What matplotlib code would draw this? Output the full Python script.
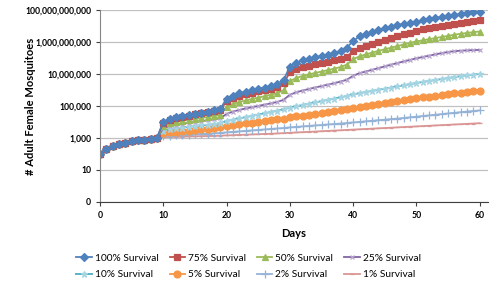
import numpy as np
import matplotlib
matplotlib.use("Agg")
import matplotlib.pyplot as plt

plt.rcParams['font.family'] = ['Lato', 'DejaVu Sans']

days = list(range(0, 61))

# log10 of adult female count (days 0..60)
start = [2.0, 2.30, 2.48, 2.60, 2.70, 2.78, 2.85, 2.90, 2.95, 3.00]

s100 = start + [4.02, 4.20, 4.30, 4.38, 4.45, 4.52, 4.58, 4.65, 4.72, 4.82,
                5.45, 5.65, 5.78, 5.88, 5.97, 6.06, 6.15, 6.25, 6.38, 6.62,
                7.45, 7.70, 7.85, 7.95, 8.05, 8.12, 8.20, 8.30, 8.42, 8.65,
                9.05, 9.35, 9.50, 9.63, 9.75, 9.86, 9.96, 10.05, 10.12, 10.20,
                10.27, 10.35, 10.42, 10.50, 10.57, 10.63, 10.69, 10.75, 10.80, 10.85, 10.89]
s75 = start + [3.95, 4.15, 4.25, 4.33, 4.40, 4.47, 4.53, 4.60, 4.66, 4.74,
               5.30, 5.50, 5.62, 5.73, 5.83, 5.92, 6.00, 6.08, 6.18, 6.42,
               7.10, 7.30, 7.42, 7.52, 7.60, 7.68, 7.76, 7.85, 7.95, 8.05,
               8.45, 8.62, 8.76, 8.89, 9.00, 9.12, 9.24, 9.36, 9.47, 9.58,
               9.70, 9.78, 9.86, 9.93, 10.00, 10.07, 10.13, 10.19, 10.25, 10.31, 10.36]
s50 = start + [3.75, 3.92, 4.00, 4.07, 4.13, 4.19, 4.25, 4.31, 4.37, 4.45,
               4.95, 5.12, 5.24, 5.34, 5.43, 5.52, 5.61, 5.70, 5.80, 5.98,
               6.55, 6.75, 6.87, 6.97, 7.06, 7.15, 7.24, 7.33, 7.43, 7.58,
               7.92, 8.10, 8.22, 8.33, 8.44, 8.54, 8.64, 8.74, 8.84, 8.94,
               9.03, 9.10, 9.17, 9.24, 9.31, 9.38, 9.45, 9.51, 9.56, 9.61, 9.65]
s25 = start + [3.60, 3.75, 3.82, 3.88, 3.94, 4.00, 4.05, 4.10, 4.16, 4.23,
               4.50, 4.65, 4.75, 4.84, 4.92, 5.00, 5.08, 5.16, 5.25, 5.38,
               5.70, 5.85, 5.96, 6.06, 6.15, 6.24, 6.33, 6.42, 6.52, 6.64,
               6.88, 7.05, 7.15, 7.26, 7.36, 7.47, 7.58, 7.68, 7.78, 7.88,
               7.97, 8.06, 8.14, 8.22, 8.30, 8.37, 8.42, 8.45, 8.47, 8.49, 8.50]
s10 = start + [3.45, 3.55, 3.60, 3.65, 3.70, 3.74, 3.78, 3.82, 3.86, 3.92,
               4.05, 4.14, 4.22, 4.30, 4.38, 4.46, 4.54, 4.62, 4.70, 4.78,
               4.90, 4.98, 5.06, 5.14, 5.22, 5.30, 5.38, 5.46, 5.54, 5.62,
               5.72, 5.80, 5.87, 5.94, 6.01, 6.08, 6.15, 6.22, 6.29, 6.36,
               6.43, 6.50, 6.56, 6.62, 6.68, 6.74, 6.80, 6.86, 6.91, 6.96, 7.00]
s5 = start + [3.28, 3.34, 3.38, 3.42, 3.46, 3.50, 3.54, 3.58, 3.62, 3.67,
              3.76, 3.81, 3.86, 3.91, 3.96, 4.01, 4.06, 4.11, 4.16, 4.21,
              4.28, 4.34, 4.40, 4.46, 4.52, 4.58, 4.64, 4.70, 4.76, 4.82,
              4.88, 4.94, 5.00, 5.06, 5.12, 5.18, 5.24, 5.30, 5.36, 5.42,
              5.48, 5.53, 5.58, 5.63, 5.68, 5.73, 5.78, 5.83, 5.87, 5.92, 5.96]
s2 = start + [3.12, 3.15, 3.17, 3.19, 3.21, 3.23, 3.25, 3.27, 3.29, 3.31,
              3.35, 3.38, 3.41, 3.44, 3.47, 3.50, 3.53, 3.56, 3.59, 3.62,
              3.66, 3.69, 3.72, 3.75, 3.78, 3.81, 3.84, 3.87, 3.90, 3.93,
              3.97, 4.00, 4.04, 4.07, 4.11, 4.14, 4.18, 4.21, 4.25, 4.29,
              4.33, 4.37, 4.41, 4.45, 4.49, 4.53, 4.57, 4.61, 4.65, 4.68, 4.72]
s1 = start + [3.05, 3.06, 3.07, 3.08, 3.09, 3.10, 3.11, 3.12, 3.13, 3.14,
              3.16, 3.17, 3.19, 3.20, 3.22, 3.23, 3.25, 3.26, 3.28, 3.30,
              3.32, 3.34, 3.36, 3.38, 3.40, 3.42, 3.44, 3.46, 3.48, 3.50,
              3.52, 3.54, 3.56, 3.58, 3.60, 3.62, 3.64, 3.66, 3.68, 3.70,
              3.72, 3.74, 3.76, 3.78, 3.80, 3.82, 3.84, 3.86, 3.88, 3.90, 3.92]

labels = ["100% Survival", "75% Survival", "50% Survival", "25% Survival",
          "10% Survival", "5% Survival", "2% Survival", "1% Survival"]
series = [s100, s75, s50, s25, s10, s5, s2, s1]

# (line colour, marker, marker size, marker face, marker edge)
styles = [
    ("#4F81BD", "D", 4.0, "#4F81BD", "#4F81BD"),
    ("#C0504D", "s", 4.5, "#C0504D", "#C0504D"),
    ("#9BBB59", "^", 5.0, "#9BBB59", "#9BBB59"),
    ("#8064A2", "x", 3.5, "#B9A8D0", "#B9A8D0"),
    ("#4BACC6", "*", 5.0, "#A5D5E2", "#A5D5E2"),
    ("#F79646", "o", 5.0, "#F79646", "#F79646"),
    ("#95B3D7", "+", 5.5, "#95B3D7", "#95B3D7"),
    ("#D99694", "_", 3.0, "#D99694", "#D99694"),
]

yticks = [0.1, 10, 1e3, 1e5, 1e7, 1e9, 1e11]
ytick_labels = ["0", "10", "1,000", "100,000", "10,000,000",
                "1,000,000,000", "100,000,000,000"]

fig = plt.figure(figsize=(5, 2.91), dpi=100)
ax = fig.add_axes([0.2, 0.306, 0.776, 0.66])

handles = {}
# draw in reverse so the high-survival series sit on top
for vals, lab, st in reversed(list(zip(series, labels, styles))):
    col, mk, ms, mfc, mec = st
    ln, = ax.plot(days, 10 ** np.array(vals), color=col, lw=1.3, marker=mk,
                  ms=ms, mfc=mfc, mec=mec, mew=0.9, label=lab)
    handles[lab] = ln

ax.set_yscale("log")
ax.set_ylim(0.1, 1e11)
ax.set_yticks(yticks)
ax.set_yticklabels(ytick_labels)
ax.yaxis.set_minor_locator(matplotlib.ticker.NullLocator())
ax.set_xlim(0, 61.3)
ax.set_xticks(range(0, 61, 10))

ax.grid(axis="y", color="#C0C0C0", lw=0.9)
ax.set_axisbelow(True)
for s in ["top", "right"]:
    ax.spines[s].set_visible(False)
ax.spines["left"].set_color("#868686")
ax.spines["bottom"].set_color("#404040")
ax.tick_params(axis="both", labelsize=6.2, length=3, width=0.8, colors="#404040",
               labelcolor="black")
for t in ax.get_xticklabels() + ax.get_yticklabels():
    t.set_fontweight("bold")

ax.set_xlabel("Days", fontsize=8, fontweight="bold", labelpad=6)
ax.set_ylabel("# Adult Female Mosquitoes", fontsize=8, fontweight="bold")
ax.yaxis.set_label_coords(-0.165, 0.5)

# legend fills column by column, so interleave the two rows
order = [0, 4, 1, 5, 2, 6, 3, 7]
fig.legend([handles[labels[i]] for i in order], [labels[i] for i in order],
           ncol=4, loc="upper center", bbox_to_anchor=(0.497, 0.16),
           frameon=False, fontsize=7.3, handlelength=1.5, handletextpad=0.3,
           columnspacing=1.1, labelspacing=0.75)

fig.savefig("out.png", dpi=100)
